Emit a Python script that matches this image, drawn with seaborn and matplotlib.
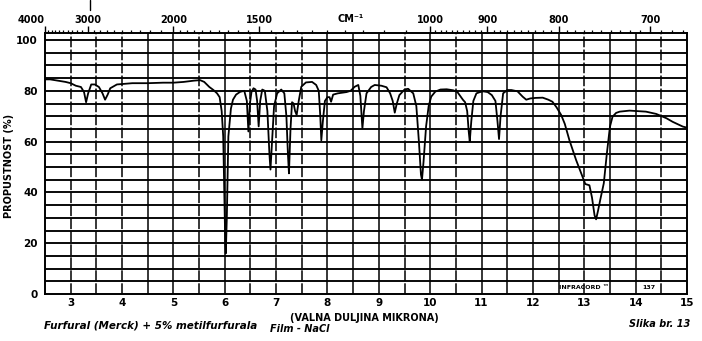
import numpy as np
import pandas as pd
import matplotlib
matplotlib.use("Agg")
import matplotlib.pyplot as plt
from matplotlib.lines import Line2D
import seaborn as sns

# Infrared spectrum: wavelength (micron) vs transmittance (%)
wavelength = [
    2.50, 2.60, 2.75, 2.90, 3.00, 3.10, 3.20, 3.26, 3.30, 3.34, 3.40, 3.47,
    3.55, 3.62, 3.67, 3.72, 3.77, 3.90, 4.20, 4.50, 4.80, 5.00, 5.20, 5.40,
    5.52, 5.60, 5.70, 5.78, 5.85, 5.90, 5.94, 5.97, 5.99, 6.01, 6.02, 6.04,
    6.07, 6.12, 6.16, 6.22, 6.30, 6.38, 6.43, 6.46, 6.49, 6.52, 6.56, 6.60,
    6.63, 6.66, 6.69, 6.73, 6.78, 6.83, 6.87, 6.89, 6.92, 6.96, 7.02, 7.10,
    7.16, 7.20, 7.23, 7.25, 7.28, 7.31, 7.34, 7.37, 7.40, 7.44, 7.49, 7.58,
    7.70, 7.78, 7.83, 7.86, 7.88, 7.91, 7.95, 8.00, 8.04, 8.07, 8.11, 8.20,
    8.37, 8.45, 8.53, 8.60, 8.64, 8.67, 8.68, 8.71, 8.76, 8.85, 8.92, 9.05,
    9.15, 9.22, 9.27, 9.31, 9.35, 9.40, 9.50, 9.57, 9.67, 9.73, 9.78, 9.82,
    9.84, 9.87, 9.92, 9.97, 10.02, 10.10, 10.20, 10.32, 10.45, 10.53, 10.60,
    10.64, 10.68, 10.72, 10.75, 10.77, 10.80, 10.84, 10.90, 10.97, 11.03,
    11.12, 11.20, 11.27, 11.31, 11.34, 11.37, 11.42, 11.50, 11.58, 11.70,
    11.80, 11.87, 11.95, 12.05, 12.19, 12.30, 12.38, 12.46, 12.55, 12.62,
    12.71, 12.84, 12.94, 13.02, 13.10, 13.15, 13.20, 13.23, 13.27, 13.31,
    13.38, 13.44, 13.50, 13.55, 13.62, 13.69, 13.88, 14.05, 14.20, 14.40,
    14.60, 14.72, 14.92, 15.00,
]
transmittance = [
    84.5, 84.5, 84.0, 83.5, 83.0, 82.0, 81.5, 79.5, 75.5, 79.0, 82.5, 82.5,
    81.5, 79.0, 76.5, 78.5, 81.0, 82.5, 83.0, 83.0, 83.2, 83.2, 83.5, 84.0,
    84.2, 83.5, 81.5, 80.3, 79.0, 77.5, 72.0, 62.0, 40.0, 20.0, 16.0, 30.0,
    62.0, 73.0, 76.5, 78.5, 79.6, 80.0, 76.0, 64.0, 75.0, 79.5, 81.0, 80.5,
    76.0, 66.0, 76.0, 80.5, 80.0, 72.0, 55.0, 49.0, 60.0, 74.0, 79.0, 80.5,
    79.0, 70.0, 55.0, 47.5, 65.0, 75.5, 75.0, 72.0, 70.5, 76.0, 81.6, 83.3,
    83.5, 82.3, 80.0, 70.0, 60.5, 68.0, 76.0, 77.5, 77.5, 75.7, 78.5, 79.0,
    79.5, 80.0, 81.6, 82.3, 78.0, 68.0, 65.2, 72.0, 79.0, 81.5, 82.3, 82.0,
    81.4, 79.0, 76.0, 71.4, 75.0, 78.3, 80.5, 80.8, 79.0, 74.0, 60.0, 47.0,
    45.0, 52.0, 66.0, 74.0, 77.7, 79.7, 80.5, 80.6, 80.2, 79.5, 77.5,
    76.4, 75.5, 72.0, 64.0, 60.0, 68.0, 76.0, 79.0, 79.5, 79.8,
    79.5, 78.3, 76.0, 68.0, 61.0, 70.0, 79.0, 80.3, 80.3, 79.8,
    77.7, 76.5, 77.0, 77.2, 77.3, 76.5, 75.7, 73.5, 70.5, 67.0,
    60.6, 52.8, 47.5, 43.3, 42.8, 38.0, 31.0, 29.4, 33.0, 37.0,
    43.6, 55.4, 65.9, 69.8, 71.3, 71.8, 72.2, 72.0, 71.8, 70.9,
    69.2, 67.8, 65.9, 65.5,
]

micron_ticks = list(range(3, 16))
percent_ticks = [0, 20, 40, 60, 80, 100]
wavenumber_major = [4000, 3000, 2000, 1500, 1000, 900, 800, 700]
wavenumber_minor = (list(range(3900, 2000, -100))
                    + list(range(1950, 1000, -50))
                    + list(range(990, 660, -10)))

spectrum = pd.DataFrame({"wavelength": wavelength, "transmittance": transmittance})

sns.set_theme(style="white")
plt.rcParams["font.family"] = ["DejaVu Sans"]
for key in ("text.color", "axes.labelcolor", "xtick.color", "ytick.color"):
    plt.rcParams[key] = "black"

W, H = 702, 341
fig = plt.figure(figsize=(W / 100, H / 100), dpi=100)
fig.patch.set_facecolor("white")
left, right, top, bottom = 45, 687, 33, 294
ax = fig.add_axes([left / W, 1 - bottom / H, (right - left) / W, (bottom - top) / H])
ax.set_facecolor("white")

ax.set_xlim(2.5, 15)
ax.set_ylim(0, 102.76)

# chart-paper grid
for y in np.arange(5, 101, 5):
    ax.axhline(y, color="black", lw=1.35, zorder=1)
dashed = {3.0, 3.5, 4.0, 5.5, 6.5, 7.0, 7.5, 9.5, 10.5, 13.0, 14.5}
for x in np.arange(3.0, 15.0, 0.5):
    if round(x, 1) in dashed:
        ax.axvline(x, color="black", lw=1.1, ls=(0, (7, 1.5)), zorder=1)
    else:
        ax.axvline(x, color="black", lw=1.1, zorder=1)

sns.lineplot(data=spectrum, x="wavelength", y="transmittance", ax=ax,
             color="black", lw=1.3, estimator=None, sort=False, zorder=3)

for s in ax.spines.values():
    s.set_color("black")
    s.set_linewidth(1.4)

ax.set_xticks(micron_ticks)
ax.set_xticklabels([str(t) for t in micron_ticks], fontsize=7.5, fontweight="bold")
ax.set_yticks(percent_ticks)
ax.set_yticklabels([str(t) for t in percent_ticks], fontsize=7.5, fontweight="bold")
ax.tick_params(axis="both", length=0, pad=3)
ax.tick_params(axis="y", pad=5)
ax.set_xlabel("")
ax.set_ylabel("PROPUSTNOST (%)", fontsize=7, fontweight="bold")
ax.yaxis.set_label_coords((14 - left) / (right - left), 0.49)

# wavenumber scale along the top
top_ax = ax.twiny()
top_ax.set_xlim(ax.get_xlim())
top_ax.set_xticks([1e4 / w for w in wavenumber_major])
top_ax.set_xticklabels([str(w) for w in wavenumber_major], fontsize=7, fontweight="bold")
top_ax.set_xticks([1e4 / w for w in wavenumber_minor], minor=True)
top_ax.tick_params(axis="x", which="major", direction="out", length=5, width=1.0, pad=1, color="black")
top_ax.tick_params(axis="x", which="minor", direction="out", length=2.5, width=0.9, color="black")
top_ax.get_xticklabels()[0].set_horizontalalignment("right")
top_ax.grid(False)
for s in top_ax.spines.values():
    s.set_visible(False)
top_ax.text(8.45, 1.035, "CM\u207b\u00b9", transform=top_ax.get_xaxis_transform(),
            fontsize=7, fontweight="bold", ha="center", va="bottom")
fig.add_artist(Line2D([90 / W, 90 / W], [1.0, 1 - 10 / H], color="black", lw=1.0))

# instrument stamp in the bottom row
ax.text(13.0, 2.6, "INFRACORD \u2122", fontsize=4.5, fontweight="bold", ha="center", va="center", zorder=4)
ax.text(14.25, 2.6, "137", fontsize=4.5, fontweight="bold", ha="center", va="center", zorder=4)

# captions under the chart
fig.text(364 / W, 1 - 318 / H, "(VALNA DULJINA MIKRONA)", fontsize=7, fontweight="bold",
         ha="center", va="center")
fig.text(270 / W, 1 - 329 / H, "Film - NaCl", fontsize=7, fontweight="bold", style="italic",
         ha="left", va="center")
fig.text(44 / W, 1 - 326 / H, "Furfural (Merck) + 5% metilfurfurala", fontsize=7.5,
         fontweight="bold", style="italic", ha="left", va="center")
fig.text(690 / W, 1 - 324 / H, "Slika br. 13", fontsize=7, fontweight="bold", style="italic",
         ha="right", va="center")

fig.savefig("out.png", dpi=100, facecolor="white")
